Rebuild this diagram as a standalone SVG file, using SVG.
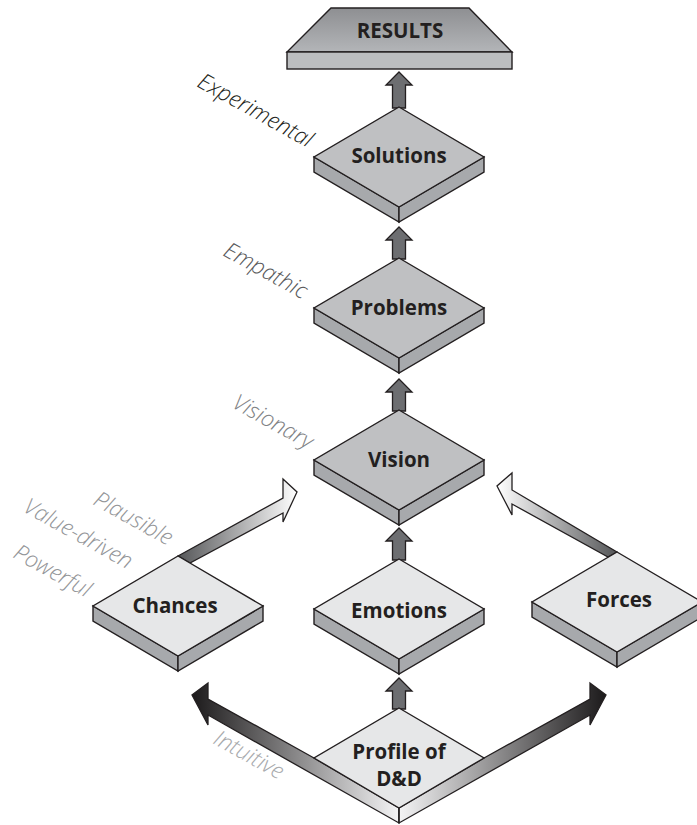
<svg xmlns="http://www.w3.org/2000/svg" width="697" height="825" viewBox="0 0 697 825">
<defs>
<style>
.top-dark{fill:#bfc0c2;stroke:#231f20;stroke-width:1.4;stroke-linejoin:miter}
.top-light{fill:#e6e7e8;stroke:#231f20;stroke-width:1.4}
.side{fill:#a7a9ac;stroke:#231f20;stroke-width:1.4}
.small-arrow{fill:#6d6e71;stroke:#231f20;stroke-width:1.3}
.band{stroke:#231f20;stroke-width:1.3;stroke-linejoin:miter}
.node-text{font-family:"Open Sans","Liberation Sans",sans-serif;font-weight:700;font-size:20.5px;fill:#231f20;text-anchor:middle}
.label{font-family:"Open Sans","Liberation Sans",sans-serif;font-style:italic;font-weight:300;font-size:22.5px}
</style>
<linearGradient id="gBigL" gradientUnits="userSpaceOnUse" x1="399" y1="0" x2="192" y2="0">
<stop offset="0" stop-color="#f4f4f5"/>
<stop offset="1" stop-color="#1c1a1b"/>
</linearGradient>
<linearGradient id="gBigR" gradientUnits="userSpaceOnUse" x1="399" y1="0" x2="606" y2="0">
<stop offset="0" stop-color="#f4f4f5"/>
<stop offset="1" stop-color="#1c1a1b"/>
</linearGradient>
<linearGradient id="gChances" gradientUnits="userSpaceOnUse" x1="180" y1="0" x2="297" y2="0">
<stop offset="0" stop-color="#58595b"/>
<stop offset="1" stop-color="#ffffff"/>
</linearGradient>
<linearGradient id="gForces" gradientUnits="userSpaceOnUse" x1="615" y1="0" x2="497" y2="0">
<stop offset="0" stop-color="#58595b"/>
<stop offset="1" stop-color="#ffffff"/>
</linearGradient>
<linearGradient id="gResults" gradientUnits="userSpaceOnUse" x1="0" y1="8" x2="0" y2="52">
<stop offset="0" stop-color="#8e8f92"/>
<stop offset="1" stop-color="#b3b5b8"/>
</linearGradient>
</defs>

<g id="connectors">
<path class="small-arrow" d="M399,72 L412,85 L405.5,85 L405.5,108 L392.5,108 L392.5,85 L386,85 Z"/>
<path class="small-arrow" d="M399,227 L412,240 L405.5,240 L405.5,259 L392.5,259 L392.5,240 L386,240 Z"/>
<path class="small-arrow" d="M399,379 L412,392 L405.5,392 L405.5,411 L392.5,411 L392.5,392 L386,392 Z"/>
<path class="small-arrow" d="M399,528 L412,541 L405.5,541 L405.5,560 L392.5,560 L392.5,541 L386,541 Z"/>
<path class="small-arrow" d="M399,678 L412,691 L405.5,691 L405.5,709 L392.5,709 L392.5,691 L386,691 Z"/>
<polygon class="band" fill="url(#gChances)" points="178,556 283,498 283,479 297,492 283,522 283,513 190,563"/>
<polygon class="band" fill="url(#gForces)" points="617,552 512,490 512,473 497,486 512,515 512,504 608,557"/>
<polygon class="band" fill="url(#gBigL)" points="399,808 314,758 208,699 208,683 192,695 208,725 208,715 399,823"/>
<polygon class="band" fill="url(#gBigR)" points="399,808 484,758 590,699 590,683 606,695 590,725 590,715 399,823"/>
</g>

<g id="node-results">
<polygon points="331,8 469,8 512,52 287,52" fill="url(#gResults)" stroke="#231f20" stroke-width="1.4"/>
<rect x="287" y="52" width="225" height="17" fill="#bcbec0" stroke="#231f20" stroke-width="1.4"/>
<text class="node-text" x="400" y="38">RESULTS</text>
</g>

<g id="node-solutions">
<polygon class="side" points="314,157 399,207 399,222 314,172"/>
<polygon class="side" points="399,207 484,157 484,172 399,222"/>
<polygon class="top-dark" points="399,107 484,157 399,207 314,157"/>
<text class="node-text" x="399" y="163">Solutions</text>
</g>

<g id="node-problems">
<polygon class="side" points="314,308 399,358 399,373 314,323"/>
<polygon class="side" points="399,358 484,308 484,323 399,373"/>
<polygon class="top-dark" points="399,258 484,308 399,358 314,308"/>
<text class="node-text" x="399" y="315">Problems</text>
</g>

<g id="node-vision">
<polygon class="side" points="314,460 399,510 399,525 314,475"/>
<polygon class="side" points="399,510 484,460 484,475 399,525"/>
<polygon class="top-dark" points="399,410 484,460 399,510 314,460"/>
<text class="node-text" x="399" y="467">Vision</text>
</g>

<g id="node-emotions">
<polygon class="side" points="314,609 399,659 399,674 314,624"/>
<polygon class="side" points="399,659 484,609 484,624 399,674"/>
<polygon class="top-light" points="399,559 484,609 399,659 314,609"/>
<text class="node-text" x="399" y="618">Emotions</text>
</g>

<g id="node-chances">
<polygon class="side" points="93,606 178,656 178,671 93,621"/>
<polygon class="side" points="178,656 263,606 263,621 178,671"/>
<polygon class="top-light" points="178,556 263,606 178,656 93,606"/>
<text class="node-text" x="175" y="613">Chances</text>
</g>

<g id="node-forces">
<polygon class="side" points="532,602 617,652 617,667 532,617"/>
<polygon class="side" points="617,652 702,602 702,617 617,667"/>
<polygon class="top-light" points="617,552 702,602 617,652 532,602"/>
<text class="node-text" x="619" y="607">Forces</text>
</g>

<g id="node-profile">
<polygon class="top-light" points="399,708 484,758 399,808 314,758"/>
<line x1="399" y1="808" x2="399" y2="823" stroke="#231f20" stroke-width="1.3"/>
<text class="node-text" x="399" y="759">Profile of</text>
<text class="node-text" x="399" y="786">D&amp;D</text>
</g>

<g id="labels">
<text class="label" fill="#231f20" transform="translate(196,86) rotate(29)">Experimental</text>
<text class="label" fill="#58595b" transform="translate(222,255) rotate(29)">Empathic</text>
<text class="label" fill="#808285" transform="translate(231,407) rotate(29)">Visionary</text>
<text class="label" fill="#939598" transform="translate(92,504) rotate(29)">Plausible</text>
<text class="label" fill="#939598" transform="translate(22,511) rotate(29)">Value-driven</text>
<text class="label" fill="#939598" transform="translate(12,557) rotate(29)">Powerful</text>
<text class="label" fill="#a7a9ac" transform="translate(212,743) rotate(29)">Intuitive</text>
</g>
</svg>
